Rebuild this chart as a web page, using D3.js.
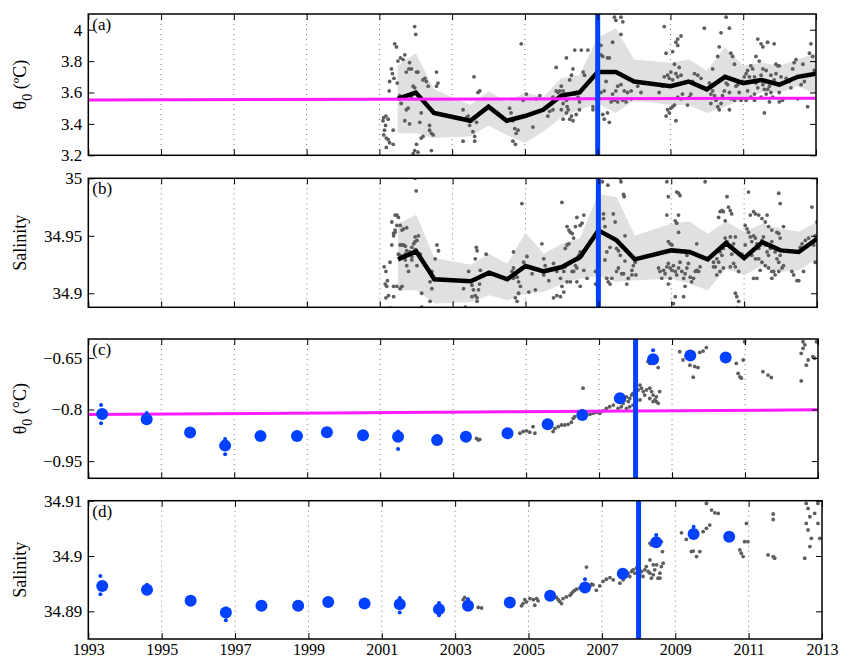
<!DOCTYPE html>
<html>
<head>
<meta charset="utf-8">
<script src="https://cdn.jsdelivr.net/npm/d3@7"></script>
<style>
	body { margin: 0; background: #fff; }
</style>
</head>
<body>
<svg id="canvas"></svg>
<script>
const width = 842;
const height = 662;

const yearTicks = [1993, 1995, 1997, 1999, 2001, 2003, 2005, 2007, 2009, 2011, 2013];

// (a)/(b) binned means and spread
const binYears = [2001.5, 2002, 2002.5, 2003.5, 2004, 2004.5, 2005, 2005.5, 2006, 2006.5, 2007, 2007.5, 2008, 2009, 2009.5, 2010, 2010.5, 2011, 2011.5, 2012, 2012.5, 2013];
const thetaMean = [3.56, 3.6, 3.47, 3.42, 3.51, 3.42, 3.45, 3.49, 3.58, 3.6, 3.73, 3.73, 3.67, 3.64, 3.67, 3.62, 3.7, 3.66, 3.68, 3.65, 3.7, 3.72];
const thetaHi = [3.77, 3.85, 3.62, 3.52, 3.61, 3.54, 3.6, 3.57, 3.69, 3.71, 3.95, 4.01, 3.81, 3.79, 3.81, 3.74, 3.89, 3.77, 3.79, 3.77, 3.81, 3.85];
const thetaLo = [3.34, 3.34, 3.31, 3.32, 3.39, 3.33, 3.28, 3.35, 3.44, 3.49, 3.53, 3.47, 3.55, 3.52, 3.52, 3.47, 3.51, 3.56, 3.6, 3.6, 3.64, 3.59];
const salMean = [34.9295, 34.9365, 34.9122, 34.9104, 34.9179, 34.9122, 34.9237, 34.9191, 34.9228, 34.9315, 34.9547, 34.946, 34.9295, 34.9373, 34.9359, 34.9295, 34.9437, 34.9306, 34.9445, 34.9373, 34.9359, 34.9474];
const salHi = [34.9604, 34.9682, 34.9306, 34.9248, 34.9344, 34.9257, 34.9526, 34.9344, 34.943, 34.948, 34.9865, 34.9836, 34.9503, 34.9604, 34.9625, 34.9517, 34.9625, 34.9532, 34.9604, 34.9561, 34.9538, 34.9619];
const salLo = [34.9026, 34.9026, 34.891, 34.8924, 34.8983, 34.8939, 34.8997, 34.9011, 34.9083, 34.9127, 34.915, 34.9098, 34.9113, 34.9127, 34.9083, 34.9026, 34.9214, 34.9156, 34.9243, 34.9185, 34.92, 34.93];

// reference (magenta) lines and event (blue) lines
const refYears = [1993, 2013];
const thetaRef = [3.553, 3.564];
const deepThetaRef = [-0.8146, -0.801];
const eventUpper = 2007;
const eventDeep = 2008;

// (a) individual profiles
const thetaDots = [
	[2001.12,3.44],[2001.18,3.45],[2001.1,3.42],[2001.24,3.43],[2001.17,3.39],[2001.14,3.36],[2001.12,3.33],[2001.19,3.31],[2001.24,3.3],[2001.28,3.28],[2001.38,3.27],[2001.19,3.25],[2001.38,3.36],[2001.27,3.61],[2001.28,3.67],[2001.36,3.72],[2001.4,3.69],[2001.42,3.91],[2001.47,3.89],[2001.33,3.75],[2001.51,3.8],[2001.58,3.82],[2001.65,3.81],[2001.7,3.84],[2001.49,3.66],
	[2001.56,3.58],[2001.6,3.53],[2001.74,3.49],[2001.79,3.5],[2001.83,3.4],[2001.7,3.42],[2001.88,3.75],[2002.02,3.73],[2002.06,3.73],[2001.93,3.64],[2001.97,3.63],[2001.88,3.57],[2002.15,3.47],[2002.11,3.41],[2002.2,3.32],[2002.15,3.31],[2002.02,3.27],[2001.97,3.23],[2001.93,3.21],[2002.06,3.22],[2002.2,3.68],[2002.25,3.69],[2002.29,3.67],[2002.34,3.64],[2002.38,3.39],[2002.38,3.36],[2002.43,3.34],[2002.48,3.33],[2002.43,3.23],[2001.97,4.02],[2002,3.97],[2002.57,3.73],[2002.61,3.66],[2002.57,3.64],[2001.81,3.75],[2001.74,3.73],[2001.83,3.79],
	[2003.3,3.49],[2003.44,3.45],[2003.48,3.39],[2003.53,3.42],[2003.57,3.35],[2003.62,3.32],[2003.62,3.29],[2003.67,3.41],[2003.6,3.7],[2003.71,3.6],[2003.76,3.61],[2003.3,3.29],[2003.4,3.44],
	[2004.58,3.5],[2004.62,3.47],[2004.67,3.42],[2004.72,3.37],[2004.76,3.34],[2004.81,3.36],[2004.67,3.29],[2004.74,3.27],[2004.9,3.91],[2004.95,3.55],[2005.04,3.59],[2005.22,3.38],[2005.31,3.56],[2005.41,3.58],[2005.5,3.49],[2005.54,3.5],
	[2005.63,3.45],[2005.68,3.48],[2005.77,3.49],[2005.86,3.76],[2005.91,3.6],[2005.96,3.61],[2006,3.64],[2006.05,3.61],[2006.1,3.59],[2006.05,3.53],[2006.14,3.55],[2006.16,3.51],[2006.19,3.49],[2006.23,3.68],[2006.28,3.71],[2006.32,3.75],[2006.37,3.59],[2006.41,3.6],[2006.46,3.57],[2006.5,3.6],[2006.5,3.54],[2006.14,3.82],[2006.37,3.87],[2006.55,3.87],[2006.05,3.43],[2006.14,3.47],[2006.23,3.43],[2006.32,3.42],[2006.41,3.46],[2006.5,3.49],[2006.6,3.73],[2006.64,3.71],[2006.28,3.45],[2006,3.49],[2005.77,3.57],[2005.86,3.61],[2006.73,3.87],[2006.87,3.51],[2006.87,3.49],
	[2007.09,3.9],[2007.09,3.84],[2007.14,3.83],[2007.18,3.61],[2007.23,3.67],[2007.09,3.6],[2007.14,3.46],[2007.18,3.43],[2007.32,3.41],[2007.27,3.47],[2007.41,3.92],[2007.46,4.08],[2007.5,4.06],[2007.64,4.08],[2007.69,4.05],[2007.64,3.97],[2007.27,3.82],[2007.32,3.82],[2007.41,3.59],[2007.5,3.61],[2007.55,3.64],[2007.64,3.65],[2007.73,3.61],[2007.82,3.6],[2007.92,3.61],[2007.46,3.55],[2007.55,3.54],[2007.69,3.55],[2007.78,3.54],[2007.92,3.56],[2007.37,3.54],[2008.01,3.67],[2008.1,3.64],[2008.19,3.6],
	[2008.69,3.6],[2008.78,3.64],[2008.83,3.7],[2008.92,3.71],[2008.97,3.69],[2009.01,3.73],[2009.06,3.68],[2009.15,3.72],[2009.2,3.7],[2009.24,3.76],[2009.29,3.71],[2008.88,3.85],[2009.06,3.86],[2009.11,3.78],[2009.15,3.92],[2009.2,3.94],[2009.29,3.96],[2008.92,3.49],[2008.97,3.47],[2009.01,3.5],[2008.88,3.45],[2009.06,3.51],[2009.11,3.52],[2009.2,3.57],[2009.29,3.56],[2009.33,3.59],[2009.15,3.42],[2008.83,4.02],[2009.2,3.9],[2009.47,3.52],[2009.52,3.57],[2009.56,3.59],[2009.61,3.67],[2009.66,3.72],[2009.75,3.71],[2009.84,3.69],[2009.93,4.01],
	[2010.07,3.66],[2010.11,3.59],[2010.16,3.61],[2010.21,3.58],[2010.25,3.55],[2010.3,3.51],[2010.34,3.49],[2010.39,3.53],[2010.43,3.58],[2010.48,3.61],[2010.53,3.66],[2010.57,3.65],[2010.62,3.6],[2010.16,3.75],[2010.3,3.83],[2010.34,3.89],[2010.39,3.98],[2010.53,4.08],[2010.62,4.01],[2010.66,3.85],[2010.71,3.83],[2010.76,3.78],[2010.8,3.64],[2010.85,3.65],[2010.89,3.6],[2010.76,3.55],[2010.66,3.56],[2010.62,3.49],[2010.11,3.53],
	[2010.98,3.67],[2011.03,3.7],[2011.08,3.72],[2011.12,3.74],[2011.17,3.7],[2011.21,3.77],[2011.26,3.75],[2011.31,3.7],[2011.35,3.66],[2011.4,3.63],[2011.44,3.68],[2011.49,3.71],[2011.54,3.65],[2011.58,3.62],[2011.63,3.59],[2011.67,3.62],[2011.72,3.64],[2011.76,3.6],[2011.81,3.66],[2011.85,3.68],[2011.9,3.72],[2011.95,3.65],[2011.99,3.6],[2012.04,3.7],[2011.95,3.77],[2011.99,3.77],[2010.94,3.55],[2011.08,3.55],[2011.31,3.55],[2011.49,3.57],[2011.58,3.47],[2011.4,3.94],[2011.49,3.91],[2011.54,3.89],[2011.67,3.92],[2011.85,3.91],[2011.21,3.57],[2011.35,3.83],[2011.44,3.8],[2011.63,3.74],[2011.76,3.71],[2011.9,3.78],[2012.08,3.55],[2011.31,3.59],[2011.12,3.61],[2011.54,3.75],[2011.81,3.57],[2011.72,3.54],[2011.99,3.54],
	[2012.18,3.69],[2012.27,3.67],[2012.36,3.75],[2012.4,3.79],[2012.5,3.7],[2012.59,3.65],[2012.68,3.67],[2012.77,3.71],[2012.86,3.91],[2012.82,3.85],[2012.91,3.83],[2012.95,3.74],[2012.77,3.51],[2012.5,3.56],[2012.64,3.78],[2012.45,3.81],[2012.31,3.63]
];

// (b) individual profiles
const salDots = [
	[2001.12,34.923],[2001.17,34.919],[2001.21,34.911],[2001.15,34.908],[2001.19,34.906],[2001.24,34.898],[2001.17,34.896],[2001.28,34.887],[2001.38,34.906],[2001.38,34.897],[2001.28,34.927],[2001.33,34.942],[2001.33,34.962],[2001.38,34.952],[2001.42,34.953],[2001.42,34.968],[2001.47,34.968],[2001.51,34.966],[2001.38,34.95],[2001.42,34.955],[2001.47,34.959],[2001.56,34.959],[2001.61,34.955],[2001.65,34.956],[2001.74,34.957],[2001.56,34.942],[2001.61,34.942],[2001.65,34.942],[2001.7,34.941],[2001.51,34.934],[2001.56,34.933],[2001.65,34.932],[2001.7,34.934],[2001.74,34.937],[2001.83,34.936],[2001.88,34.94],[2001.93,34.943],[2001.97,34.945],[2001.97,34.949],[2002.02,34.946],[2002.06,34.95],[2002,34.989],[2001.97,35],[2001.7,34.929],[2001.74,34.924],[2001.79,34.919],[2001.88,34.929],[2001.97,34.938],[2002.02,34.924],[2002.11,34.934],[2001.88,34.932],[2001.56,34.904],[2001.61,34.906],[2001.47,34.906],
	[2002.15,34.9],[2002.15,34.888],[2002.38,34.893],[2002.43,34.904],[2002.48,34.912],[2002.57,34.942],[2002.61,34.937],[2002.52,34.93],[2002.43,34.919],[2002.38,34.91],
	[2003.3,34.904],[2003.35,34.888],[2003.44,34.919],[2003.48,34.911],[2003.53,34.907],[2003.57,34.903],[2003.62,34.898],[2003.67,34.896],[2003.71,34.903],[2003.65,34.94],[2003.67,34.937],[2003.62,34.93],[2003.76,34.92],[2003.92,34.934],[2003.74,34.908],[2003.68,34.913],[2003.67,34.893],[2003.53,34.897],
	[2004.63,34.919],[2004.67,34.913],[2004.67,34.922],[2004.72,34.916],[2004.77,34.914],[2004.81,34.91],[2004.86,34.906],[2004.81,34.9],[2004.72,34.896],[2004.77,34.893],[2004.9,34.978],[2004.67,34.936],[2004.95,34.927],[2005.04,34.932],[2005.18,34.917],[2005.27,34.903],[2005.09,34.901],
	[2005.45,34.943],[2005.5,34.93],[2005.54,34.924],[2005.5,34.916],[2005.64,34.911],[2005.77,34.926],[2005.86,34.919],[2005.96,34.913],[2006,34.906],[2006.05,34.919],[2006.09,34.923],[2006.09,34.939],[2006.14,34.942],[2006.19,34.943],[2006.23,34.953],[2006.28,34.952],[2006.32,34.948],[2006.37,34.924],[2006.41,34.922],[2006.46,34.933],[2006.46,34.93],[2006.5,34.936],[2006.55,34.933],[2006.6,34.92],[2006.41,34.966],[2006.5,34.959],[2006.55,34.961],[2006.6,34.968],[2006.37,34.958],[2006.14,34.958],[2006.19,34.955],[2006,34.979],[2006.5,34.906],[2006.28,34.919],[2006.23,34.91],[2006.05,34.901],[2005.96,34.897],[2005.86,34.898],[2005.77,34.896],[2006.92,34.908],[2006.92,34.919],[2006.69,34.913],[2006.32,34.919],[2006.14,34.91],[2006.41,34.91],
	[2007.11,34.997],[2007.26,34.994],[2007.6,35],[2007.62,34.997],[2007.18,34.958],[2007.14,34.969],[2007.14,34.965],[2007.23,34.936],[2007.18,34.929],[2007.41,34.969],[2007.46,34.962],[2007.32,34.94],[2007.5,34.939],[2007.55,34.937],[2007.6,34.933],[2007.73,34.95],[2007.73,34.928],[2007.69,34.917],[2007.5,34.919],[2007.37,34.913],[2007.23,34.913],[2007.27,34.91],[2007.32,34.908],[2007.55,34.922],[2007.64,34.917],[2007.78,34.908],[2007.82,34.913],[2007.92,34.92],[2007.96,34.924],[2008.01,34.927],[2007.92,34.916],[2007.69,34.986],[2007.71,34.984],[2008.03,34.916],
	[2008.65,34.922],[2008.69,34.919],[2008.74,34.913],[2008.79,34.92],[2008.83,34.917],[2008.88,34.923],[2008.92,34.926],[2008.97,34.922],[2008.97,34.913],[2009.02,34.92],[2009.06,34.924],[2009.11,34.919],[2009.15,34.916],[2009.2,34.922],[2009.24,34.927],[2009.29,34.919],[2009.34,34.913],[2009.38,34.917],[2009.43,34.922],[2009.47,34.926],[2009.52,34.914],[2009.56,34.91],[2009.61,34.913],[2009.66,34.919],[2009.7,34.92],[2009.75,34.919],[2009.79,34.923],[2008.92,34.908],[2008.97,34.943],[2009.02,34.942],[2008.92,34.945],[2008.88,34.968],[2008.92,34.984],[2009.15,34.988],[2009.2,34.987],[2009.24,34.985],[2009.2,34.968],[2009.15,34.961],[2009.11,34.963],[2009.2,34.953],[2009.38,34.906],[2009.06,34.891],[2008.88,34.997],[2009.43,34.933],[2009.7,34.943],[2009.93,34.997],[2009.11,34.897],[2009.34,34.897],
	[2010.11,34.933],[2010.16,34.927],[2010.21,34.923],[2010.25,34.93],[2010.3,34.927],[2010.34,34.936],[2010.39,34.933],[2010.43,34.939],[2010.48,34.948],[2010.53,34.945],[2010.62,34.94],[2010.66,34.934],[2010.71,34.943],[2010.76,34.949],[2010.62,34.949],[2010.53,34.984],[2010.57,34.975],[2010.62,34.972],[2010.66,34.969],[2010.3,34.966],[2010.34,34.971],[2010.39,34.972],[2010.43,34.971],[2010.48,34.963],[2010.16,34.923],[2010.43,34.922],[2010.62,34.923],[2010.71,34.926],[2010.76,34.923],[2010.85,34.919],[2010.34,34.919],[2010.25,34.916],[2010.76,34.9],[2010.8,34.897],[2010.85,34.893],[2010.8,34.887],
	[2011.03,34.959],[2011.08,34.956],[2011.12,34.953],[2011.17,34.949],[2011.21,34.945],[2011.26,34.95],[2011.31,34.948],[2011.35,34.943],[2011.4,34.939],[2011.44,34.942],[2011.49,34.946],[2011.53,34.949],[2011.58,34.942],[2011.63,34.936],[2011.67,34.933],[2011.72,34.939],[2011.76,34.945],[2011.81,34.94],[2011.85,34.936],[2011.9,34.93],[2011.95,34.927],[2011.99,34.933],[2012.04,34.922],[2012.08,34.924],[2011.21,34.933],[2011.31,34.93],[2011.4,34.93],[2011.49,34.927],[2011.58,34.924],[2011.67,34.922],[2011.76,34.919],[2011.85,34.916],[2011.95,34.919],[2011.12,34.988],[2011.26,34.971],[2011.31,34.969],[2011.4,34.968],[2011.49,34.965],[2011.58,34.962],[2011.63,34.968],[2011.67,34.958],[2011.76,34.955],[2011.9,34.953],[2011.95,34.952],[2011.99,34.948],[2011.99,34.978],[2011.95,34.987],[2012.08,34.958],[2011.26,34.913],[2011.35,34.913],[2011.44,34.92],[2011.76,34.913],[2011.81,34.919],[2011.17,34.968],[2010.94,34.934],[2011.03,34.942],
	[2012.31,34.919],[2012.36,34.916],[2012.45,34.911],[2012.5,34.911],[2012.54,34.94],[2012.59,34.943],[2012.63,34.939],[2012.68,34.946],[2012.77,34.948],[2012.86,34.975],[2013,34.962],[2012.95,34.95],[2012.91,34.942],[2012.95,34.927],[2012.63,34.919]
];

// (c)/(d) repeat-station means
const deepYears = [1993.38, 1994.6, 1995.79, 1996.75, 1997.72, 1998.72, 1999.54, 2000.53, 2001.49, 2002.56, 2003.35, 2004.49, 2005.59, 2006.54, 2007.57, 2008.48, 2009.5, 2010.47];
const deepTheta = [-0.813, -0.828, -0.867, -0.905, -0.877, -0.877, -0.866, -0.875, -0.879, -0.889, -0.879, -0.869, -0.843, -0.816, -0.767, -0.654, -0.643, -0.649];
const deepSal = [34.8946, 34.8939, 34.8919, 34.8898, 34.891, 34.891, 34.8917, 34.8914, 34.8913, 34.8904, 34.891, 34.8916, 34.8928, 34.8943, 34.8968, 34.9025, 34.904, 34.9035];
const deepThetaErr = [[1993.35,-0.787],[1993.35,-0.84],[1994.6,-0.81],[1996.75,-0.886],[1996.75,-0.93],[2001.49,-0.864],[2001.49,-0.915],[2002.56,-0.879],[2006.54,-0.804],[2008.48,-0.628],[2009.5,-0.635]];
const deepSalErr = [[1993.33,34.8964],[1993.33,34.8931],[1994.6,34.8948],[1996.75,34.8905],[1996.75,34.8884],[2001.49,34.8924],[2001.49,34.8898],[2002.56,34.8915],[2002.56,34.8893],[2003.35,34.8922],[2006.54,34.8958],[2008.48,34.9038],[2009.5,34.9053]];

const deepThetaDots = [
	[2003.64,-0.884],[2003.69,-0.889],[2003.73,-0.887],[2004.83,-0.869],[2004.92,-0.864],[2005.01,-0.862],[2005.1,-0.866],[2005.24,-0.869],[2005.19,-0.85],[2005.74,-0.864],[2005.79,-0.855],[2005.88,-0.85],[2005.97,-0.845],[2006.06,-0.845],[2006.15,-0.843],[2006.24,-0.837],[2006.29,-0.826],[2006.33,-0.821],[2006.43,-0.818],[2006.56,-0.738],[2006.65,-0.816],[2006.75,-0.814],[2006.84,-0.811],[2006.93,-0.808],[2007.02,-0.811],[2007.11,-0.804],[2007.2,-0.797],[2007.29,-0.792],[2007.39,-0.787],[2007.52,-0.797],[2007.61,-0.792],[2007.66,-0.782],[2007.7,-0.772],[2007.75,-0.763],[2007.8,-0.777],[2007.84,-0.768],[2007.89,-0.758],[2007.93,-0.753],[2007.98,-0.763],[2008.02,-0.748],[2008.07,-0.743],[2008.12,-0.729],[2008.16,-0.738],[2008.21,-0.748],[2008.25,-0.758],[2008.3,-0.743],[2008.39,-0.738],[2008.44,-0.748],[2008.48,-0.758],[2008.53,-0.772],[2008.57,-0.777],[2008.62,-0.782],[2008.66,-0.748],[2008.57,-0.763],[2008.48,-0.777],[2008.39,-0.768],[2008.02,-0.777],[2008.12,-0.772],[2007.93,-0.787],[2007.84,-0.792],[2007.75,-0.797],
	[2008.34,-0.661],[2008.39,-0.666],[2008.44,-0.656],[2008.57,-0.651],[2008.62,-0.678],[2009.21,-0.632],[2009.3,-0.656],[2009.39,-0.646],[2009.49,-0.671],[2009.58,-0.706],[2009.62,-0.675],[2009.71,-0.678],[2009.76,-0.634],[2009.85,-0.63],[2009.94,-0.62],[2010.76,-0.666],[2010.81,-0.695],[2010.86,-0.705],[2010.9,-0.709],[2010.95,-0.656],[2010.99,-0.603],[2011.49,-0.69],[2011.63,-0.7],[2011.72,-0.707],[2012.54,-0.637],[2012.59,-0.622],[2012.64,-0.612],[2012.68,-0.671],[2012.73,-0.656],[2012.54,-0.717],[2012.91,-0.651],[2012.96,-0.603],[2012.86,-0.646],[2012.59,-0.603]
];

const deepSalDots = [
	[2003.22,34.8921],[2003.26,34.8925],[2003.31,34.8908],[2003.63,34.8907],[2003.72,34.8906],[2004.81,34.891],[2004.85,34.8914],[2004.9,34.8921],[2004.94,34.8917],[2005.04,34.8923],[2005.13,34.8921],[2005.22,34.8923],[2005.17,34.8911],[2005.26,34.8919],[2005.76,34.8925],[2005.81,34.8921],[2005.85,34.8918],[2005.9,34.8914],[2005.94,34.8923],[2006.03,34.8926],[2006.13,34.8929],[2006.17,34.8932],[2006.22,34.8936],[2006.26,34.8938],[2006.31,34.894],[2006.4,34.8942],[2006.58,34.898],[2006.67,34.8945],[2006.72,34.8949],[2006.76,34.8948],[2006.85,34.8938],[2006.94,34.8946],[2007.03,34.8954],[2007.12,34.8958],[2007.22,34.8961],[2007.31,34.8957],[2007.49,34.8951],[2007.58,34.8957],[2007.62,34.8963],[2007.67,34.8966],[2007.71,34.8969],[2007.76,34.8963],[2007.81,34.8972],[2007.85,34.8975],[2007.9,34.8969],[2007.94,34.8978],[2007.99,34.8984],[2008.03,34.8966],[2008.08,34.8972],[2008.12,34.8963],[2008.17,34.8975],[2008.21,34.8981],[2008.26,34.8972],[2008.31,34.8969],[2008.35,34.896],[2008.4,34.8966],[2008.44,34.8975],[2008.49,34.8984],[2008.53,34.896],[2008.58,34.8969],[2008.62,34.8981],[2008.67,34.8987],[2008.31,34.8993],[2008.4,34.8984],[2008.58,34.896],
	[2008.35,34.902],[2008.31,34.9023],[2008.62,34.9026],[2008.65,34.9008],[2009.17,34.9042],[2009.3,34.903],[2009.44,34.9008],[2009.49,34.9009],[2009.58,34.8999],[2009.67,34.9008],[2009.76,34.9044],[2009.85,34.905],[2009.94,34.9056],[2009.85,34.9095],[2009.99,34.9083],[2010.08,34.9078],[2010.17,34.9077],[2010.76,34.9011],[2010.8,34.9005],[2010.85,34.8999],[2010.94,34.9059],[2010.89,34.9026],[2010.98,34.9026],[2011.53,34.9002],[2011.67,34.8999],[2011.71,34.8996],[2011.67,34.9076],[2011.67,34.9066],[2012.57,34.9095],[2012.62,34.9086],[2012.67,34.9071],[2012.57,34.9059],[2012.62,34.9047],[2012.71,34.9032],[2012.67,34.9017],[2012.53,34.8996],[2012.89,34.9095],[2012.89,34.9059],[2012.94,34.9032],[2012.8,34.9077]
];

const blue = '#0040ff';
const magenta = '#ff1cff';
const serif = '"Liberation Serif"';

const panels = [
	{ id: 'a', left: 88.3, right: 816, top: 14, bottom: 155.3, domain: [3.2, 4.1], yTicks: [3.2, 3.4, 3.6, 3.8, 4],
		title: ['θ', '0', ' (ºC)'], band: [thetaLo, thetaHi], mean: thetaMean, dots: thetaDots, ref: thetaRef, event: eventUpper },
	{ id: 'b', left: 88.3, right: 817, top: 178.3, bottom: 307.3, domain: [34.8878, 35], yTicks: [34.9, 34.95, 35],
		title: ['Salinity'], band: [salLo, salHi], mean: salMean, dots: salDots, event: eventUpper },
	{ id: 'c', left: 88.3, right: 818, top: 339, bottom: 478.3, domain: [-1.0, -0.595], yTicks: [-0.95, -0.8, -0.65],
		title: ['θ', '0', ' (°C)'], dots: deepThetaDots, ref: deepThetaRef, big: deepTheta, err: deepThetaErr, event: eventDeep },
	{ id: 'd', left: 88.3, right: 822, top: 500.7, bottom: 639, domain: [34.885, 34.91], yTicks: [34.89, 34.9, 34.91],
		title: ['Salinity'], dots: deepSalDots, big: deepSal, err: deepSalErr, event: eventDeep, xLabels: true }
];

const canvas = d3.select('#canvas').attr('width', width).attr('height', height);
const fmt = (d) => String(+d.toFixed(3)).replace('-', '\u2212');

const drawPanel = (p) => {
	const x = d3.scaleLinear().domain([1993, 2013]).range([p.left, p.right]);
	const y = d3.scaleLinear().domain(p.domain).range([p.bottom, p.top]);
	const g = canvas.append('g');

	g.append('clipPath').attr('id', 'clip-' + p.id)
		.append('rect')
		.attr('x', p.left).attr('y', p.top)
		.attr('width', p.right - p.left).attr('height', p.bottom - p.top);

	// dotted year grid
	g.selectAll('.grid')
		.data(yearTicks.slice(1, -1))
		.enter()
		.append('line')
		.attr('x1', (d) => x(d)).attr('x2', (d) => x(d))
		.attr('y1', p.top).attr('y2', p.bottom)
		.attr('stroke', '#777')
		.attr('stroke-width', 1)
		.attr('stroke-dasharray', '1,4');

	const plot = g.append('g').attr('clip-path', `url(#clip-${p.id})`);

	if (p.band) {
		const area = d3.area()
			.x((d, i) => x(binYears[i]))
			.y0((d, i) => y(p.band[0][i]))
			.y1((d, i) => y(p.band[1][i]));
		plot.append('path').datum(binYears).attr('d', area).attr('fill', '#e0e0e0');
	}

	plot.selectAll('.dot')
		.data(p.dots)
		.enter()
		.append('circle')
		.attr('cx', (d) => x(d[0]))
		.attr('cy', (d) => y(d[1]))
		.attr('r', 1.9)
		.attr('fill', '#5e5e5e');

	if (p.mean) {
		const line = d3.line()
			.x((d, i) => x(binYears[i]))
			.y((d) => y(d));
		plot.append('path').datum(p.mean)
			.attr('d', line)
			.attr('fill', 'none')
			.attr('stroke', '#000')
			.attr('stroke-width', 4.5);
	}

	if (p.ref) {
		plot.append('line')
			.attr('x1', x(refYears[0])).attr('x2', x(refYears[1]))
			.attr('y1', y(p.ref[0])).attr('y2', y(p.ref[1]))
			.attr('stroke', magenta)
			.attr('stroke-width', 3);
	}

	if (p.big) {
		plot.selectAll('.err')
			.data(p.err)
			.enter()
			.append('circle')
			.attr('cx', (d) => x(d[0]))
			.attr('cy', (d) => y(d[1]))
			.attr('r', 2)
			.attr('fill', blue);
		plot.selectAll('.big')
			.data(p.big)
			.enter()
			.append('circle')
			.attr('cx', (d, i) => x(deepYears[i]))
			.attr('cy', (d) => y(d))
			.attr('r', 6)
			.attr('fill', blue);
	}

	plot.append('line')
		.attr('x1', x(p.event)).attr('x2', x(p.event))
		.attr('y1', p.top).attr('y2', p.bottom)
		.attr('stroke', blue)
		.attr('stroke-width', 5);

	// axes, MATLAB style: ticks inside on all four sides
	const styleAxis = (sel) => {
		sel.attr('font-size', 17).attr('font-family', serif);
		sel.select('.domain').remove();
		sel.selectAll('text').attr('fill', '#000');
	};
	g.append('g').attr('transform', `translate(0,${p.bottom})`)
		.call(d3.axisBottom(x).tickValues(yearTicks).tickSize(-6).tickPadding(5)
			.tickFormat(p.xLabels ? d3.format('d') : ''))
		.call(styleAxis)
		.attr('font-size', 16);
	g.append('g').attr('transform', `translate(0,${p.top})`)
		.call(d3.axisTop(x).tickValues(yearTicks).tickSize(-6).tickFormat(''))
		.call(styleAxis);
	g.append('g').attr('transform', `translate(${p.left},0)`)
		.call(d3.axisLeft(y).tickValues(p.yTicks).tickSize(-6).tickPadding(6).tickFormat(fmt))
		.call(styleAxis);
	g.append('g').attr('transform', `translate(${p.right},0)`)
		.call(d3.axisRight(y).tickValues(p.yTicks).tickSize(-6).tickFormat(''))
		.call(styleAxis);

	g.append('rect')
		.attr('x', p.left).attr('y', p.top)
		.attr('width', p.right - p.left).attr('height', p.bottom - p.top)
		.attr('fill', 'none')
		.attr('stroke', '#000')
		.attr('stroke-width', 1.5);

	g.append('text')
		.attr('x', p.left + 4)
		.attr('y', p.top + 16)
		.attr('font-size', 17)
		.attr('font-family', serif)
		.text(`(${p.id})`);

	const title = g.append('text')
		.attr('transform', `translate(26,${(p.top + p.bottom) / 2}) rotate(-90)`)
		.attr('text-anchor', 'middle')
		.attr('font-size', 18)
		.attr('font-family', serif);
	if (p.title.length === 1) {
		title.text(p.title[0]);
	} else {
		title.append('tspan').text(p.title[0]);
		title.append('tspan').attr('dy', 6).attr('font-size', 14).text(p.title[1]);
		title.append('tspan').attr('dy', -6).text(p.title[2]);
	}
};

panels.forEach(drawPanel);
</script>
</body>
</html>
